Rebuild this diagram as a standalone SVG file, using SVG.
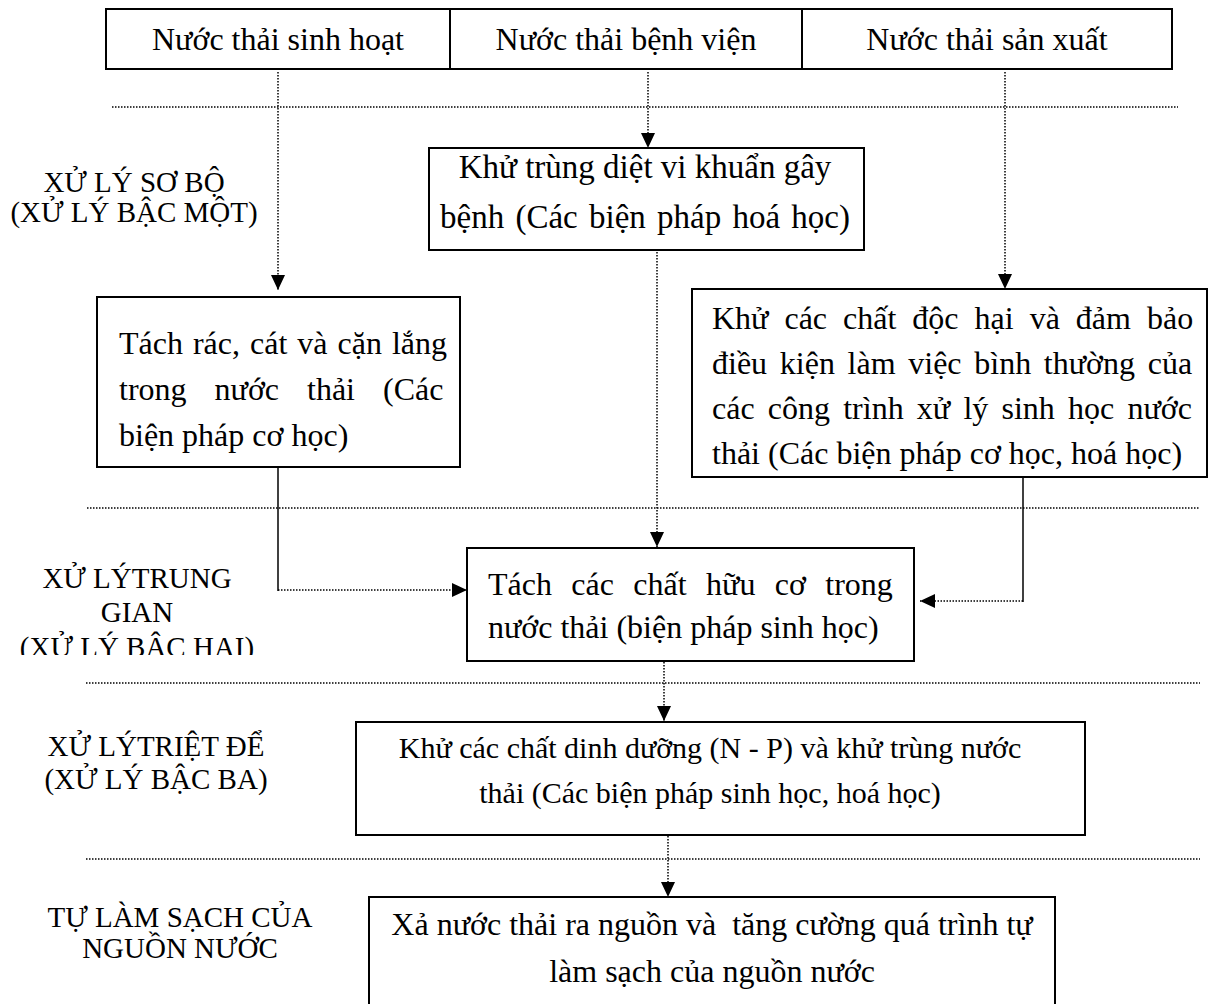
<svg xmlns="http://www.w3.org/2000/svg" width="1211" height="1004" viewBox="0 0 1211 1004">
  <style>
    .box { fill: #fff; stroke: #000; stroke-width: 2; }
    .t { font-family: "Liberation Serif", "Times New Roman", serif; font-size: 32px; fill: #000; }
    .ts { font-family: "Liberation Serif", "Times New Roman", serif; font-size: 30px; fill: #000; }
    .tl { font-family: "Liberation Serif", "Times New Roman", serif; font-size: 33px; fill: #000; }
    .lbl { font-family: "Liberation Serif", "Times New Roman", serif; font-size: 29px; fill: #000; text-anchor: middle; }
    .c { text-anchor: middle; }
    .sep { stroke: #000; stroke-width: 1.5; stroke-dasharray: 1.5 1.5; fill: none; }
    .dot { stroke: #000; stroke-width: 1.5; stroke-dasharray: 1.5 1.5; fill: none; }
    .solid { stroke: #000; stroke-width: 1.5; fill: none; }
  </style>
  <defs>
    <marker id="arrow" markerUnits="userSpaceOnUse" markerWidth="16" markerHeight="14" refX="15" refY="7" orient="auto">
      <path d="M0,0 L15,7 L0,14 Z" fill="#000"/>
    </marker>
    <clipPath id="clip-hai">
      <rect x="0" y="520" width="300" height="135"/>
    </clipPath>
  </defs>
  <rect width="1211" height="1004" fill="#fff"/>

  <!-- level separators -->
  <g id="separators">
    <line class="sep" x1="112" y1="107" x2="1178" y2="107"/>
    <line class="sep" x1="87" y1="508" x2="1200" y2="508"/>
    <line class="sep" x1="86" y1="683" x2="1200" y2="683"/>
    <line class="sep" x1="86" y1="859" x2="1200" y2="859"/>
  </g>

  <!-- stage labels -->
  <g id="label-so-bo">
    <text class="lbl" x="134" y="192">XỬ LÝ SƠ BỘ</text>
    <text class="lbl" x="134" y="222">(XỬ LÝ BẬC MỘT)</text>
  </g>
  <g id="label-trung-gian">
    <text class="lbl" x="137" y="588">XỬ LÝTRUNG</text>
    <text class="lbl" x="137" y="622">GIAN</text>
    <text class="lbl" x="137" y="657" clip-path="url(#clip-hai)">(XỬ LÝ BẬC HAI)</text>
  </g>
  <g id="label-triet-de">
    <text class="lbl" x="156" y="756">XỬ LÝTRIỆT ĐỂ</text>
    <text class="lbl" x="156" y="789">(XỬ LÝ BẬC BA)</text>
  </g>
  <g id="label-tu-lam-sach">
    <text class="lbl" x="180" y="927">TỰ LÀM SẠCH CỦA</text>
    <text class="lbl" x="180" y="958">NGUỒN NƯỚC</text>
  </g>

  <!-- connectors -->
  <g id="connectors">
    <line class="dot" x1="278" y1="72" x2="278" y2="290" marker-end="url(#arrow)"/>
    <line class="dot" x1="648" y1="72" x2="648" y2="148" marker-end="url(#arrow)"/>
    <line class="dot" x1="1005" y1="72" x2="1005" y2="289" marker-end="url(#arrow)"/>
    <line class="dot" x1="657" y1="252" x2="657" y2="547" marker-end="url(#arrow)"/>
    <line class="solid" x1="278" y1="467" x2="278" y2="591"/>
    <line class="dot" x1="278" y1="590" x2="467" y2="590" marker-end="url(#arrow)"/>
    <line class="solid" x1="1023" y1="477" x2="1023" y2="602"/>
    <line class="dot" x1="1023" y1="601" x2="920" y2="601" marker-end="url(#arrow)"/>
    <line class="dot" x1="664" y1="653" x2="664" y2="721" marker-end="url(#arrow)"/>
    <line class="dot" x1="668" y1="830" x2="668" y2="897" marker-end="url(#arrow)"/>
  </g>

  <!-- sources -->
  <g id="sources">
    <rect class="box" x="106" y="9" width="1066" height="60"/>
    <line class="solid" x1="450" y1="9" x2="450" y2="69" style="stroke-width:2"/>
    <line class="solid" x1="802" y1="9" x2="802" y2="69" style="stroke-width:2"/>
    <text class="t c" x="278" y="50">Nước thải sinh hoạt</text>
    <text class="t c" x="626" y="50">Nước thải bệnh viện</text>
    <text class="t c" x="987" y="50">Nước thải sản xuất</text>
  </g>

  <g id="node-tach-rac">
    <rect class="box" x="97" y="297" width="363" height="170"/>
    <text class="t" x="119" y="354" word-spacing="2">Tách rác, cát và cặn lắng</text>
    <text class="t" x="119" y="400" word-spacing="20">trong nước thải (Các</text>
    <text class="t" x="119" y="446">biện pháp cơ học)</text>
  </g>

  <g id="node-khu-trung">
    <rect class="box" x="429" y="148" width="435" height="102"/>
    <text class="tl c" x="645" y="178">Khử trùng diệt vi khuẩn gây</text>
    <text class="tl c" x="645" y="228" word-spacing="3">bệnh (Các biện pháp hoá học)</text>
  </g>

  <g id="node-khu-doc-hai">
    <rect class="box" x="692" y="289" width="515" height="188"/>
    <text class="t" x="712" y="329" word-spacing="8">Khử các chất độc hại và đảm bảo</text>
    <text class="t" x="712" y="374" word-spacing="4.7">điều kiện làm việc bình thường của</text>
    <text class="t" x="712" y="419" word-spacing="5.2">các công trình xử lý sinh học nước</text>
    <text class="t" x="712" y="464">thải (Các biện pháp cơ học, hoá học)</text>
  </g>

  <g id="node-huu-co">
    <rect class="box" x="467" y="548" width="447" height="113"/>
    <text class="t" x="488" y="595" word-spacing="11.4">Tách các chất hữu cơ trong</text>
    <text class="t" x="488" y="638">nước thải (biện pháp sinh học)</text>
  </g>

  <g id="node-dinh-duong">
    <rect class="box" x="356" y="722" width="729" height="113"/>
    <text class="ts c" x="710" y="758">Khử các chất dinh dưỡng (N - P) và khử trùng nước</text>
    <text class="ts c" x="710" y="803">thải (Các biện pháp sinh học, hoá học)</text>
  </g>

  <g id="node-xa-nguon">
    <rect class="box" x="369" y="897" width="686" height="120"/>
    <text class="t c" x="712" y="935" xml:space="preserve">Xả nước thải ra nguồn và  tăng cường quá trình tự</text>
    <text class="t c" x="712" y="982">làm sạch của nguồn nước</text>
  </g>
</svg>
